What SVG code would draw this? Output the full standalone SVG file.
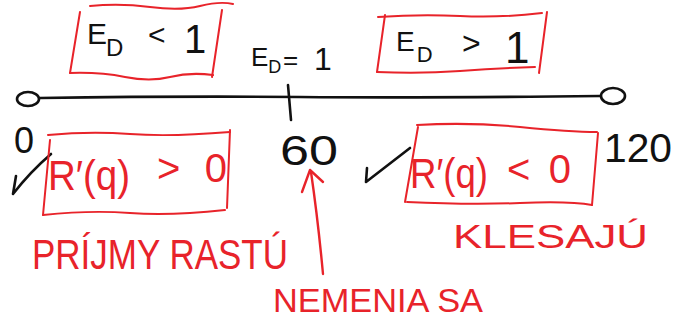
<svg xmlns="http://www.w3.org/2000/svg" width="680" height="320" viewBox="0 0 680 320">
  <style>
    .ink { fill: none; stroke: #111; stroke-width: 2.6; stroke-linecap: round; stroke-linejoin: round; }
    .pen { fill: none; stroke: #e8232a; stroke-width: 2; stroke-linecap: round; stroke-linejoin: round; }
    .penw { fill: none; stroke: #e8232a; stroke-width: 2.4; stroke-linecap: round; stroke-linejoin: round; }
    text { font-family: "Liberation Sans", "DejaVu Sans", sans-serif; }
    .k { fill: #111; }
    .r { fill: #e8232a; }
  </style>
  <rect width="680" height="320" fill="#fff"/>

  <!-- elasticity below one -->
  <g id="ed-less">
    <path class="pen" d="M90,6 Q120,3 150,7 T200,6 T233,4"/>
    <path class="pen" d="M80,12 L70,73"/>
    <path class="pen" d="M70,73 Q100,72 125,77 T170,77 T213,75"/>
    <path class="pen" d="M222,10 L212,77"/>
    <text class="k" font-size="30"><tspan x="87" y="44">E</tspan><tspan dx="-1" dy="12" font-size="24">D</tspan><tspan x="148" y="45">&lt;</tspan><tspan x="184" y="53" font-size="40">1</tspan></text>
  </g>

  <!-- unit elasticity -->
  <g id="ed-equal">
    <text class="k" font-size="26"><tspan x="251" y="66">E</tspan><tspan dy="7" font-size="18">D</tspan><tspan x="283" y="69">=</tspan><tspan x="314" y="70" font-size="32">1</tspan></text>
  </g>

  <!-- elasticity above one -->
  <g id="ed-greater">
    <path class="pen" d="M378,17 Q420,14 460,16 T542,13"/>
    <path class="pen" d="M385,15 L377,72"/>
    <path class="pen" d="M377,72 Q420,74 460,71 T535,67"/>
    <path class="pen" d="M547,12 L539,73"/>
    <text class="k" font-size="28"><tspan x="396" y="51">E</tspan><tspan dx="2" dy="11" font-size="22">D</tspan><tspan x="462" y="54" font-size="32">&gt;</tspan><tspan x="505" y="63" font-size="44">1</tspan></text>
  </g>

  <!-- quantity axis -->
  <g id="axis">
    <ellipse class="ink" cx="28" cy="99" rx="11" ry="7"/>
    <path class="ink" d="M40,98 Q180,96 300,97 T600,96"/>
    <ellipse class="ink" cx="613" cy="96" rx="12" ry="8"/>
    <path class="ink" d="M288,85 L291,120"/>
    <text class="k" x="14" y="153" font-size="36">0</text>
    <text class="k" x="280" y="165" font-size="42" textLength="58" lengthAdjust="spacingAndGlyphs">60</text>
    <text class="k" x="604" y="162" font-size="40" textLength="68" lengthAdjust="spacingAndGlyphs">120</text>
    <path class="ink" d="M16,176 L13,194 Q30,172 51,154"/>
    <path class="ink" d="M367,168 L366,182 L410,148"/>
  </g>

  <!-- rising revenue -->
  <g id="mr-positive">
    <path class="pen" d="M48,135 Q90,131 130,134 T230,132"/>
    <path class="pen" d="M50,140 L43,215"/>
    <path class="pen" d="M43,215 Q90,210 130,213 T225,210"/>
    <path class="pen" d="M230,130 L227,208"/>
    <text class="r" x="48" y="190" font-size="42" textLength="82" lengthAdjust="spacingAndGlyphs">R′(q)</text>
    <text class="r" x="157" y="182" font-size="40" textLength="70" lengthAdjust="spacing">&gt;0</text>
    <text class="r" x="32" y="269" font-size="42" textLength="256" lengthAdjust="spacingAndGlyphs">PRÍJMY RASTÚ</text>
  </g>

  <!-- falling revenue -->
  <g id="mr-negative">
    <path class="pen" d="M417,125 Q470,122 520,127 T597,132"/>
    <path class="pen" d="M418,127 L405,202"/>
    <path class="pen" d="M407,202 Q470,205 520,203 T592,205"/>
    <path class="pen" d="M598,133 L592,205"/>
    <text class="r" x="410" y="188" font-size="42" textLength="78" lengthAdjust="spacingAndGlyphs">R′(q)</text>
    <text class="r" x="507" y="183" font-size="40" textLength="64" lengthAdjust="spacing">&lt;0</text>
    <text class="r" x="453" y="248" font-size="34" textLength="195" lengthAdjust="spacingAndGlyphs">KLESAJÚ</text>
  </g>

  <!-- unchanged revenue -->
  <g id="mr-zero">
    <text class="r" x="273" y="312" font-size="33" textLength="210" lengthAdjust="spacingAndGlyphs">NEMENIA SA</text>
  </g>

  <g id="connectors">
    <path class="penw" d="M323,274 Q318,220 311,172"/>
    <path class="penw" d="M302,192 L310,170 L323,182"/>
  </g>
</svg>
